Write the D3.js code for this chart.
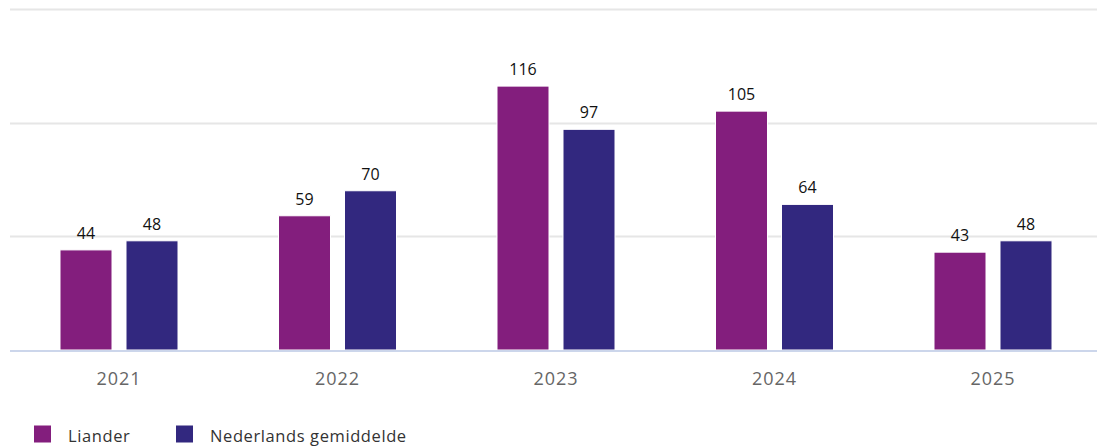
<!DOCTYPE html>
<html>
<head>
<meta charset="utf-8">
<script src="https://cdn.jsdelivr.net/npm/d3@7"></script>
<style>
  html, body { margin: 0; padding: 0; background: #fff; }
  svg { display: block; font-family: "Open Sans", Lato, sans-serif; }
</style>
</head>
<body>
<svg id="chart" width="1097" height="448"></svg>
<script>
const categories = ["2021", "2022", "2023", "2024", "2025"];
const seriesNames = ["Liander", "Nederlands gemiddelde"];
const lianderValues = [44, 59, 116, 105, 43];
const nlValues = [48, 70, 97, 64, 48];
const yTicks = [0, 50, 100, 150];
const colors = ["#831e7d", "#32287f"];

(function () {
const svg = d3.select("#chart");
const plotLeft = 10, plotRight = 1097, plotTop = 8.75, plotBottom = 350;
const FONT = "'Open Sans', Lato, sans-serif";

const x = d3.scaleBand().domain(categories).range([9.75, 1102.25]).paddingInner(0).paddingOuter(0);
const y = d3.scaleLinear().domain([0, 150]).range([plotBottom, plotTop]);

// gridlines
svg.append("g").selectAll("line").data(yTicks.slice(1)).join("line")
  .attr("x1", plotLeft).attr("x2", plotRight)
  .attr("y1", d => Math.round(y(d)) + 0.5).attr("y2", d => Math.round(y(d)) + 0.5)
  .attr("stroke", "#e6e6e6").attr("stroke-width", 2);

const series = [lianderValues, nlValues];
const barW = 52, offset = 33;

series.forEach((vals, si) => {
  const g = svg.append("g");
  const data = categories.map((c, i) => ({ c, v: vals[i] }));
  g.selectAll("rect").data(data).join("rect")
    .attr("x", d => x(d.c) + x.bandwidth() / 2 + (si === 0 ? -offset : offset) - barW / 2)
    .attr("y", d => y(d.v))
    .attr("width", barW)
    .attr("height", d => plotBottom - y(d.v))
    .attr("fill", colors[si])
    .attr("stroke", "#fff").attr("stroke-width", 1);
  g.selectAll("text").data(data).join("text")
    .attr("x", d => x(d.c) + x.bandwidth() / 2 + (si === 0 ? -offset : offset))
    .attr("y", d => y(d.v) - 11)
    .attr("text-anchor", "middle")
    .attr("font-size", 16)
    .attr("font-family", FONT)
    .attr("fill", "#111")
    .text(d => d.v);
});

// baseline
svg.append("line").attr("x1", plotLeft).attr("x2", plotRight)
  .attr("y1", plotBottom + 1).attr("y2", plotBottom + 1)
  .attr("stroke", "#ccd6eb").attr("stroke-width", 2);

// x axis labels
const xAxis = d3.axisBottom(x).tickSize(0).tickPadding(0);
const xg = svg.append("g").attr("transform", `translate(0,${plotBottom})`).call(xAxis);
xg.select(".domain").remove();
xg.selectAll("text").attr("font-size", 18).attr("fill", "#666")
  .attr("font-family", FONT).attr("letter-spacing", 1).attr("dy", 0).attr("y", 35);

// legend
const legendX = [34, 176];
const lg = svg.append("g");
seriesNames.forEach((n, i) => {
  lg.append("rect").attr("x", legendX[i]).attr("y", 425.5).attr("width", 17).attr("height", 17)
    .attr("fill", colors[i]);
  lg.append("text").attr("x", legendX[i] + 34).attr("y", 442)
    .attr("font-size", 16.5).attr("font-family", FONT).attr("letter-spacing", 0.6)
    .attr("fill", "#333").text(n);
});
})();
</script>
</body>
</html>
